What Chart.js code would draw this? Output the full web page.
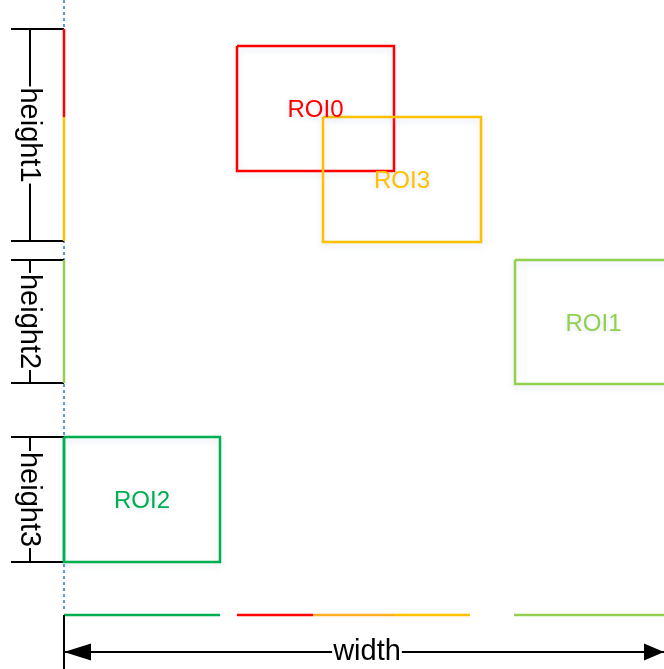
<!DOCTYPE html>
<html>
<head>
<meta charset="utf-8">
<script src="https://cdn.jsdelivr.net/npm/chart.js@4"></script>
<style>
  html, body { margin: 0; padding: 0; background: #fff; }
  #wrap { width: 664px; height: 669px; }
</style>
</head>
<body>
<div id="wrap"><canvas id="roi" width="664" height="669"></canvas></div>
<script>
// frame in image pixels (y grows downward)
const frameW = 664;
const frameH = 669;

// ROI boxes
const roiNames = ['ROI0', 'ROI1', 'ROI2', 'ROI3'];
const roiX = [237, 515, 64, 323];
const roiY = [46, 260, 437, 117];
const roiW = [157, 157, 156, 158];
const roiH = [125, 124, 125, 125];

// height stripes on the left
const heightNames = ['height1', 'height2', 'height3'];
const heightTop = [29, 260, 437];
const heightBottom = [241, 383, 562];

// coloured projections on the left edge
const leftFrom = [29, 117, 260, 437];
const leftTo = [117, 241, 383, 562];

// coloured projections along the bottom
const bottomFrom = [64, 237, 313, 394, 514];
const bottomTo = [220, 313, 394, 470, 664];

// width dimension
const widthName = 'width';
const widthFrom = 64;
const widthTo = 664;

const roiColors = ['#FF0000', '#92D050', '#00B050', '#FFC000'];
const leftColors = ['#FF0000', '#FFC000', '#92D050', '#00B050'];
const bottomColors = ['#00B050', '#FF0000', '#FFB020', '#FFC000', '#92D050'];

const originX = 64;     // left edge of frame
const projY = 615;      // row of bottom projections
const dimY = 652;       // row of width arrow
const bracketX = 30;    // height bracket line
const tickX = 11;       // start of bracket ticks
const dotEnd = 612;

const line = (pts, color, width, dash) => ({
  data: pts,
  borderColor: color,
  backgroundColor: color,
  borderWidth: width,
  borderDash: dash || [],
  showLine: true,
  pointRadius: 0,
  fill: false,
  tension: 0
});

const datasets = [];
// blue dotted guide
datasets.push(line([{x: originX, y: 0}, {x: originX, y: dotEnd}], '#5B9BD5', 2, [3, 3]));

// height brackets
heightNames.forEach((n, i) => {
  datasets.push(line([{x: tickX, y: heightTop[i]}, {x: originX, y: heightTop[i]}], '#000', 2));
  datasets.push(line([{x: tickX, y: heightBottom[i]}, {x: originX, y: heightBottom[i]}], '#000', 2));
  datasets.push(line([{x: bracketX, y: heightTop[i]}, {x: bracketX, y: heightBottom[i]}], '#000', 2));
});

// left projections
leftFrom.forEach((v, i) => {
  datasets.push(line([{x: originX, y: v}, {x: originX, y: leftTo[i]}], leftColors[i], 2.5));
});

// bottom projections
bottomFrom.forEach((v, i) => {
  datasets.push(line([{x: v, y: projY}, {x: bottomTo[i], y: projY}], bottomColors[i], 2.5));
});

// width dimension
datasets.push(line([{x: widthFrom, y: projY}, {x: widthFrom, y: frameH}], '#000', 2));
datasets.push(line([{x: widthFrom, y: dimY}, {x: widthTo, y: dimY}], '#000', 2));

// ROI boxes
roiNames.forEach((n, i) => {
  const x0 = roiX[i], y0 = roiY[i], x1 = roiX[i] + roiW[i], y1 = roiY[i] + roiH[i];
  const d = line([{x: x0, y: y0}, {x: x1, y: y0}, {x: x1, y: y1}, {x: x0, y: y1}, {x: x0, y: y0}], roiColors[i], 2.5);
  d.isBox = true;
  datasets.push(d);
});

// first pushed is drawn first (underneath)
datasets.forEach((d, i) => { d.order = datasets.length - i; });

const annot = {
  id: 'annot',
  beforeDatasetDraw(chart, args) {
    const ds = chart.data.datasets[args.index];
    if (ds.isBox) {
      chart.ctx.save();
      chart.ctx.shadowColor = 'rgba(140,160,200,0.25)';
      chart.ctx.shadowBlur = 6;
      chart.ctx.shadowOffsetY = 3;
    }
  },
  afterDatasetDraw(chart, args) {
    const ds = chart.data.datasets[args.index];
    if (ds.isBox) chart.ctx.restore();
  },
  afterDatasetsDraw(chart) {
    const {ctx, scales: {x, y}} = chart;
    ctx.save();
    ctx.textAlign = 'center';
    ctx.textBaseline = 'middle';

    // ROI labels
    ctx.font = '24px "Liberation Sans", Arial, sans-serif';
    roiNames.forEach((n, i) => {
      ctx.save();
      ctx.shadowColor = 'rgba(140,160,200,0.3)';
      ctx.shadowBlur = 5;
      ctx.shadowOffsetY = 2;
      ctx.fillStyle = roiColors[i];
      ctx.fillText(n, x.getPixelForValue(roiX[i] + roiW[i] / 2), y.getPixelForValue(roiY[i] + roiH[i] / 2) + 2);
      ctx.restore();
    });

    // height labels, rotated
    ctx.font = '29px "Liberation Sans", Arial, sans-serif';
    heightNames.forEach((n, i) => {
      const cx = x.getPixelForValue(bracketX) - 1;
      const cy = y.getPixelForValue((heightTop[i] + heightBottom[i]) / 2);
      const w = ctx.measureText(n).width;
      ctx.fillStyle = '#fff';
      ctx.fillRect(cx - 4, cy - w / 2 - 1, 9, w + 2);
      ctx.save();
      ctx.translate(cx, cy);
      ctx.rotate(Math.PI / 2);
      ctx.fillStyle = '#000';
      ctx.fillText(n, 0, 0);
      ctx.restore();
    });

    // width label
    const wx = x.getPixelForValue((widthFrom + widthTo) / 2) + 3;
    const wy = y.getPixelForValue(dimY);
    const ww = ctx.measureText(widthName).width;
    ctx.fillStyle = '#fff';
    ctx.fillRect(wx - ww / 2 - 1, wy - 4, ww + 2, 8);
    ctx.fillStyle = '#000';
    ctx.fillText(widthName, wx, wy);

    // arrow heads
    const lx = x.getPixelForValue(widthFrom), rx = x.getPixelForValue(widthTo);
    ctx.beginPath();
    ctx.moveTo(lx, wy);
    ctx.lineTo(lx + 27, wy - 8.5);
    ctx.lineTo(lx + 27, wy + 8.5);
    ctx.closePath();
    ctx.fill();
    ctx.beginPath();
    ctx.moveTo(rx, wy);
    ctx.lineTo(rx - 20, wy - 8.5);
    ctx.lineTo(rx - 20, wy + 8.5);
    ctx.closePath();
    ctx.fill();
    ctx.restore();
  }
};

new Chart(document.getElementById('roi'), {
  type: 'scatter',
  data: { datasets },
  options: {
    responsive: false,
    animation: false,
    events: [],
    layout: { padding: 0 },
    plugins: { legend: { display: false }, tooltip: { enabled: false } },
    scales: {
      x: { type: 'linear', min: 0, max: frameW, display: false },
      y: { type: 'linear', min: 0, max: frameH, reverse: true, display: false }
    }
  },
  plugins: [annot]
});
</script>
</body>
</html>
